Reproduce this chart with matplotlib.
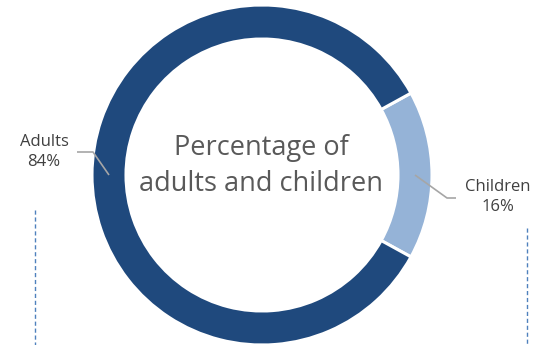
import matplotlib
matplotlib.use("Agg")
import matplotlib.pyplot as plt
import numpy as np

categories = ["Children", "Adults"]
values = [16, 84]
colors = ["#95B3D7", "#1F497D"]
center_title = "Percentage of\nadults and children"

W, H = 549, 345
fig = plt.figure(figsize=(W / 100, H / 100), dpi=100)
ax = fig.add_axes([0, 0, 1, 1])
cx, cy, R, ring = 262, 345 - 175, 170, 34

start = -values[0] / 100 * 360 / 2
wedges, _ = ax.pie(values, colors=colors, startangle=start, counterclock=True,
                   radius=R, center=(cx, cy), frame=True,
                   wedgeprops=dict(width=ring, edgecolor="white", linewidth=2.2))

ax.text(cx - 1, 345 - 166, center_title, ha="center", va="center", fontsize=19.5,
        color="#595959", family="Open Sans", linespacing=1.4)

# labels with leader lines
label_pos = {"Adults": (44, 345 - 152), "Children": (498, 345 - 197)}
for w, cat, v in zip(wedges, categories, values):
    ang = np.deg2rad((w.theta1 + w.theta2) / 2)
    rm = R - ring / 2
    x0, y0 = cx + rm * np.cos(ang), cy + rm * np.sin(ang)
    lx, ly = label_pos[cat]
    if cat == "Adults":
        xs = [x0, 93, 77]
        ys = [y0, 345 - 152, 345 - 152]
    else:
        xs = [x0, 447, 456]
        ys = [y0, 345 - 198, 345 - 198]
    ax.plot(xs, ys, color="#A6A6A6", lw=1.2, solid_capstyle="butt")
    ax.text(lx, ly, f"{cat}\n{v}%", ha="center", va="center", fontsize=12,
            color="#404040", family="Open Sans", linespacing=1.3)

# dashed vertical guide lines
ax.plot([35, 35], [345 - 210, 0], color="#4F81BD", lw=1, ls=(0, (3, 2)))
ax.plot([527, 527], [345 - 228, 0], color="#4F81BD", lw=1, ls=(0, (3, 2)))

ax.set_xlim(0, W)
ax.set_ylim(0, H)
ax.set_aspect("auto")
ax.axis("off")
fig.savefig("out.png", dpi=100)
